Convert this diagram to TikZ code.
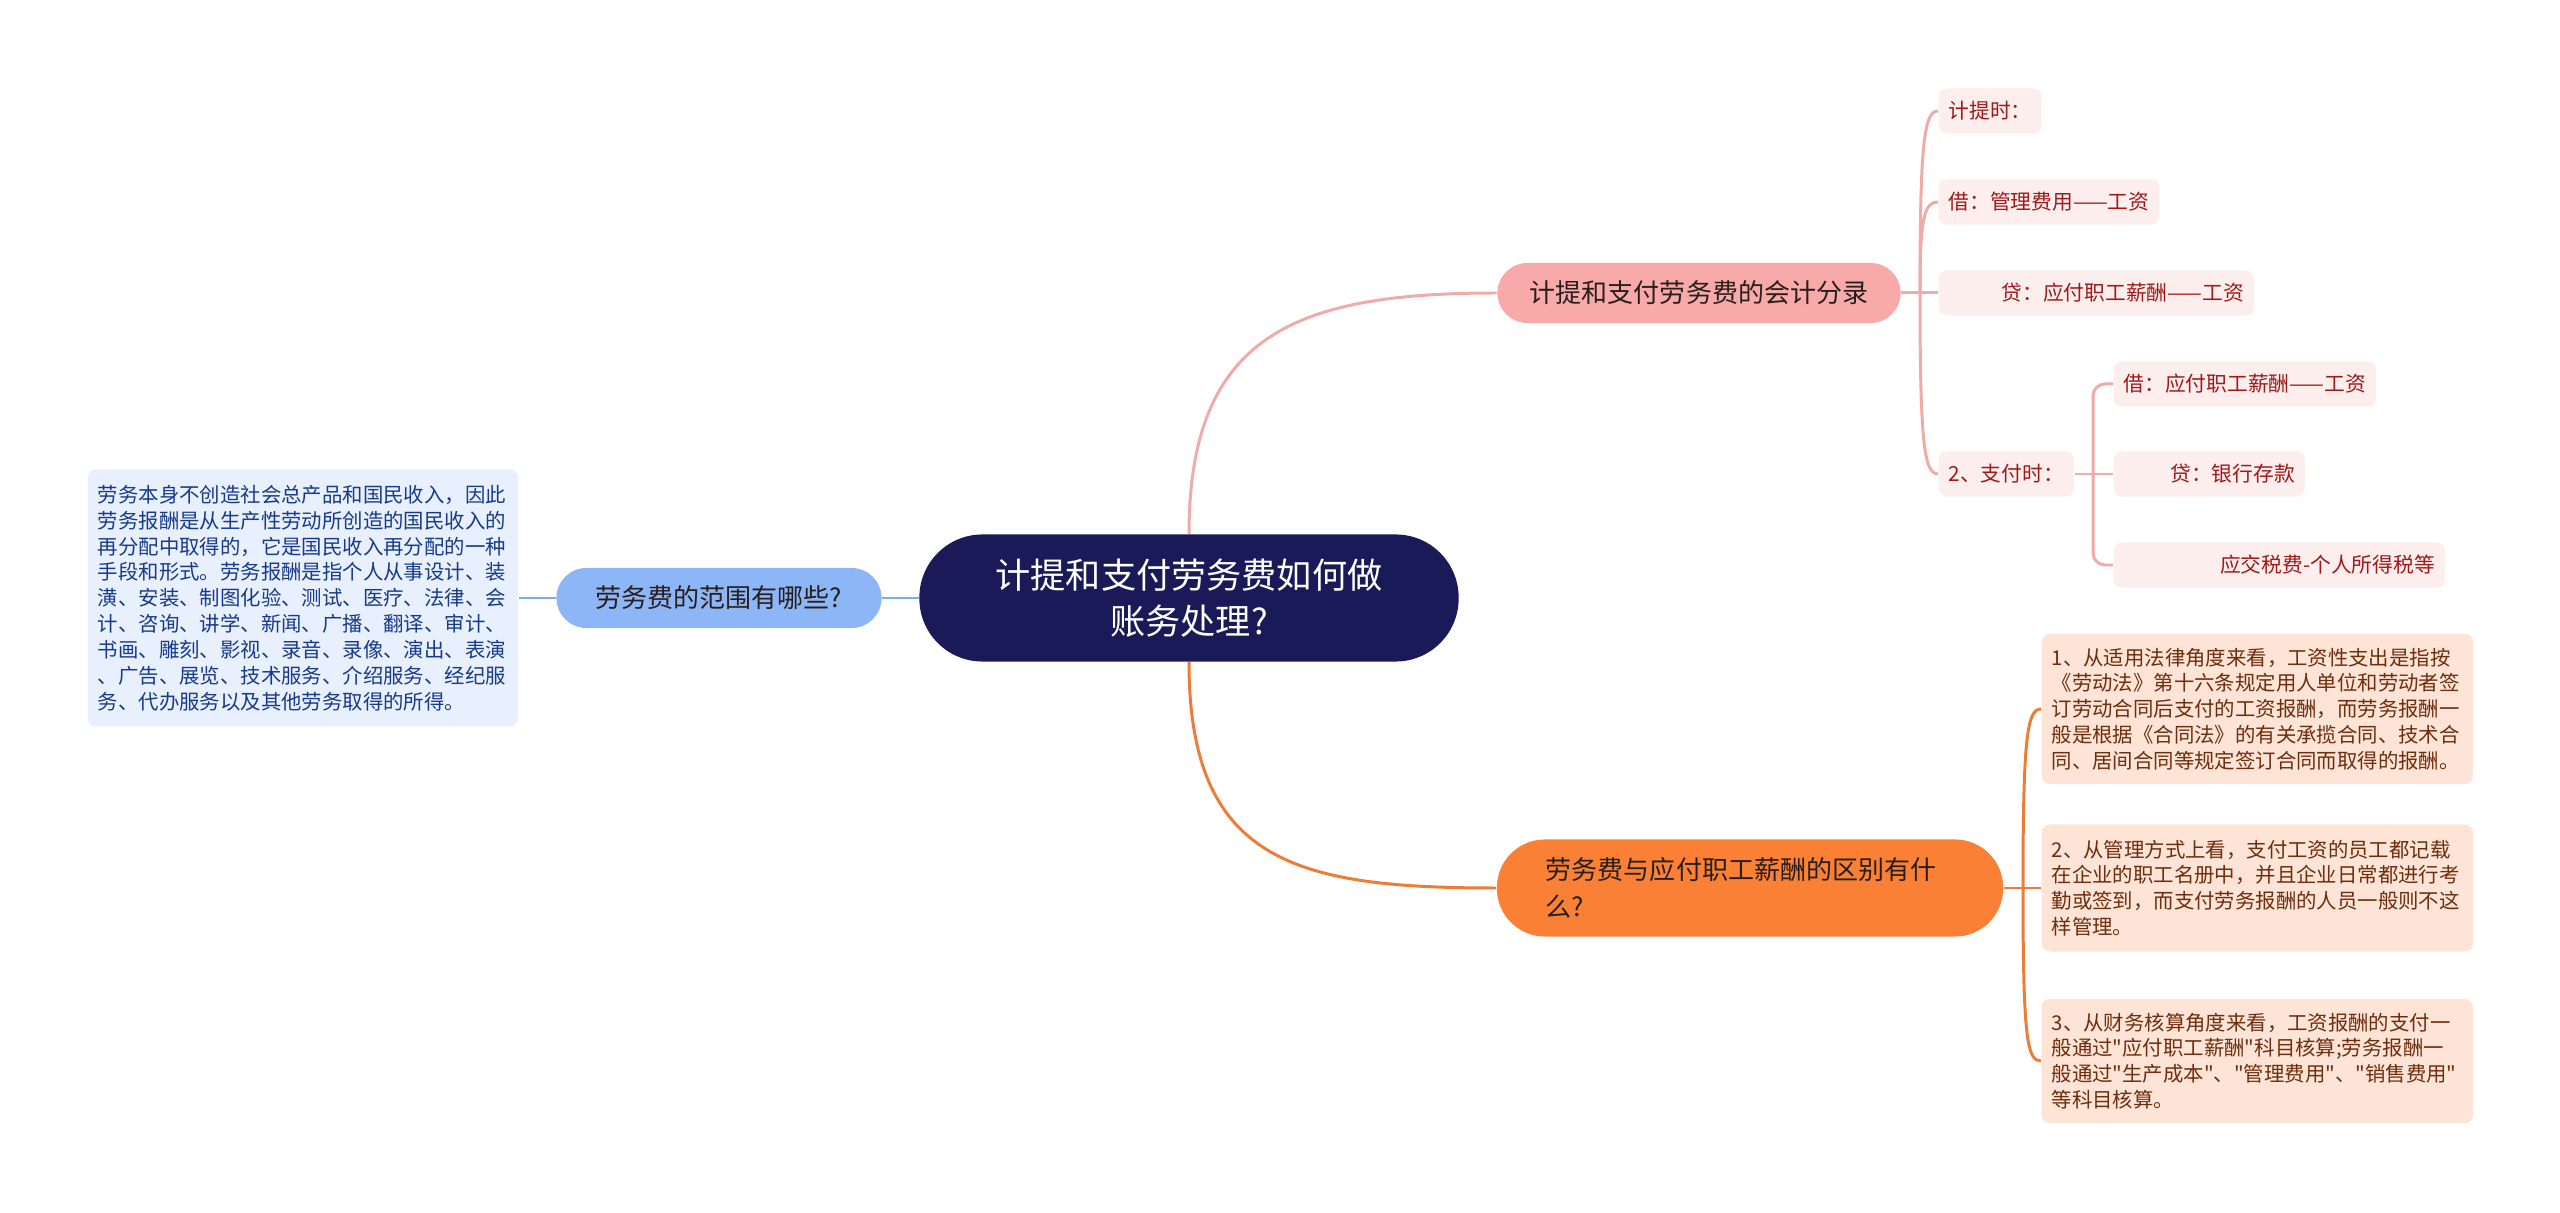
\documentclass[tikz,border=0pt]{standalone}
\usepackage{fontspec}
\setmainfont{Noto Sans CJK SC}[Ligatures=TeXOff]

\definecolor{rootfill}{RGB}{27,26,89}
\definecolor{scopefill}{RGB}{141,182,246}
\definecolor{blueline}{RGB}{129,170,236}
\definecolor{scopebox}{RGB}{232,240,253}
\definecolor{scopetext}{RGB}{22,58,140}
\definecolor{entryfill}{RGB}{248,170,168}
\definecolor{pinkline}{RGB}{240,170,168}
\definecolor{leaffill}{RGB}{253,238,238}
\definecolor{leaftext}{RGB}{160,25,25}
\definecolor{difffill}{RGB}{249,128,52}
\definecolor{orangeline}{RGB}{236,124,56}
\definecolor{notefill}{RGB}{253,228,214}
\definecolor{notetext}{RGB}{110,45,12}
\definecolor{topictext}{RGB}{40,30,30}

\tikzset{
  root/.style={fill=rootfill, text=white, rounded corners=0.63cm,
    minimum width=5.39cm, minimum height=1.27cm, align=center,
    font=\fontsize{10}{13.1}\selectfont},
  topic/.style={text=topictext, rounded corners=0.3cm, minimum height=0.6cm,
    font=\fontsize{7.4}{10.7}\selectfont},
  leaf/.style={fill=leaffill, text=leaftext, rounded corners=0.08cm,
    minimum height=0.45cm, inner xsep=0.1cm, anchor=west,
    font=\fontsize{5.9}{7}\selectfont},
  note/.style={rounded corners=0.08cm, text width=4.11cm, inner xsep=0.1cm,
    align=left, anchor=west, font=\fontsize{5.8}{7.35}\selectfont},
  link/.style={line width=0.85pt},
}

\begin{document}
\begin{tikzpicture}[x=0.01cm,y=-0.01cm]
\useasboundingbox (0,0) rectangle (2560,1213);

% centre
\node[root] (root) at (1189,598) {计提和支付劳务费如何做\\账务处理?};

% left branch
\node[topic, fill=scopefill, minimum width=3.25cm] (scope) at (719,598) {劳务费的范围有哪些?};
\node[note, fill=scopebox, text=scopetext, text width=4.1cm, minimum height=2.57cm, anchor=center] (scopenote) at (303,598)
  {劳务本身不创造社会总产品和国民收入，因此\\
   劳务报酬是从生产性劳动所创造的国民收入的\\
   再分配中取得的，它是国民收入再分配的一种\\
   手段和形式。劳务报酬是指个人从事设计、装\\
   潢、安装、制图化验、测试、医疗、法律、会\\
   计、咨询、讲学、新闻、广播、翻译、审计、\\
   书画、雕刻、影视、录音、录像、演出、表演\\
   、广告、展览、技术服务、介绍服务、经纪服\\
   务、代办服务以及其他劳务取得的所得。};

% upper right branch
\node[topic, fill=entryfill, minimum width=4.03cm] (entry) at (1699,293) {计提和支付劳务费的会计分录};
\node[leaf] (j1) at (1938,111) {计提时：};
\node[leaf] (j2) at (1938,202) {借：管理费用——工资};
\node[leaf, text width=2.95cm, align=right] (j3) at (1938,293) {贷：应付职工薪酬——工资};
\node[leaf] (j4) at (1938,474) {2、支付时：};
\node[leaf] (k1) at (2113,384) {借：应付职工薪酬——工资};
\node[leaf, text width=1.71cm, align=right] (k2) at (2113,474) {贷：银行存款};
\node[leaf, text width=3.11cm, align=right] (k3) at (2113,565) {应交税费-个人所得税等};

% lower right branch
\node[topic, fill=difffill, rounded corners=0.48cm, minimum width=5.06cm, minimum height=0.97cm,
  text width=4.08cm, align=left] (diff) at (1750,888) {劳务费与应付职工薪酬的区别有什\\么?};
\node[note, fill=notefill, text=notetext, minimum height=1.5cm] (d1) at (2041,709)
  {1、从适用法律角度来看，工资性支出是指按\\
   《劳动法》第十六条规定用人单位和劳动者签\\
   订劳动合同后支付的工资报酬，而劳务报酬一\\
   般是根据《合同法》的有关承揽合同、技术合\\
   同、居间合同等规定签订合同而取得的报酬。};
\node[note, fill=notefill, text=notetext, minimum height=1.27cm] (d2) at (2041,888)
  {2、从管理方式上看，支付工资的员工都记载\\
   在企业的职工名册中，并且企业日常都进行考\\
   勤或签到，而支付劳务报酬的人员一般则不这\\
   样管理。};
\node[note, fill=notefill, text=notetext, minimum height=1.24cm] (d3) at (2041,1061)
  {3、从财务核算角度来看，工资报酬的支付一\\
   般通过"应付职工薪酬"科目核算;劳务报酬一\\
   般通过"生产成本"、"管理费用"、"销售费用"\\
   等科目核算。};

\coordinate (etrunk) at (1920,293);
\coordinate (ptrunk) at (2093,474);
\coordinate (dtrunk) at (2023,888);

% connectors
\draw[link, blueline] (root.west) -- (scope.east);
\draw[link, blueline] (scope.west) -- (scopenote.east);
\draw[link, pinkline] (root.north) .. controls +(0,-200) and +(-200,0) .. (entry.west);
\draw[link, orangeline] (root.south) .. controls +(0,200) and +(-200,0) .. (diff.west);

\draw[link, pinkline] (entry.east) -- (j3.west);
\draw[link, pinkline] (etrunk) .. controls +(0,-150) and +(-14,0) .. (j1.west);
\draw[link, pinkline] (etrunk) .. controls +(0,-75) and +(-14,0) .. (j2.west);
\draw[link, pinkline] (etrunk) .. controls +(0,150) and +(-14,0) .. (j4.west);

\draw[link, pinkline] (j4.east) -- (k2.west);
\draw[link, pinkline, rounded corners=0.12cm] (ptrunk) |- (k1.west);
\draw[link, pinkline, rounded corners=0.12cm] (ptrunk) |- (k3.west);

\draw[link, orangeline] (diff.east) -- (d2.west);
\draw[link, orangeline] (dtrunk) .. controls +(0,-150) and +(-14,0) .. (d1.west);
\draw[link, orangeline] (dtrunk) .. controls +(0,150) and +(-14,0) .. (d3.west);
\end{tikzpicture}
\end{document}
